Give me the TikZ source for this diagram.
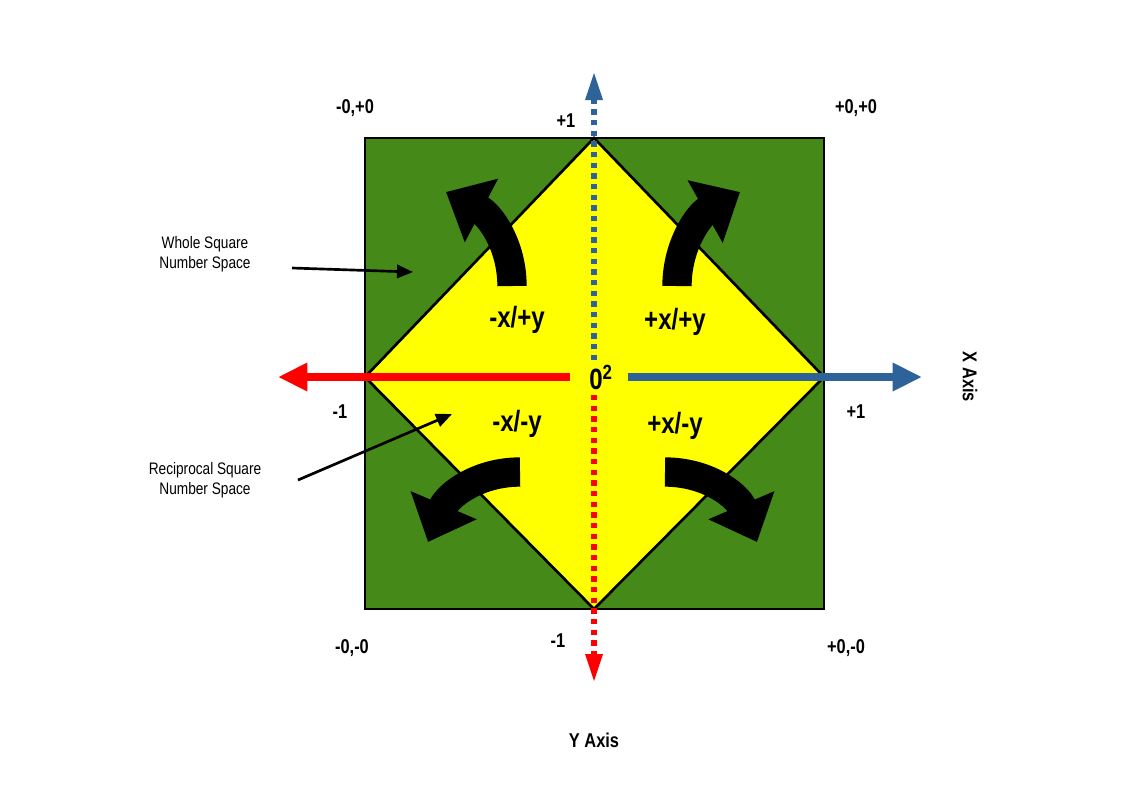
\documentclass[tikz,border=0pt]{standalone}
\usepackage{fontspec}
\setmainfont{Liberation Sans}[FakeStretch=0.82]
\usetikzlibrary{arrows.meta}
\definecolor{grn}{HTML}{458A19}
\definecolor{ylw}{HTML}{FFFF00}
\definecolor{blu}{HTML}{2E6399}
\definecolor{rd}{HTML}{FF0000}
\begin{document}
\begin{tikzpicture}[x=0.75pt,y=-0.75pt,
  lbl/.style={font=\bfseries\fontsize{15}{17}\selectfont},
  big/.style={font=\bfseries\fontsize{22}{24}\selectfont},
  small/.style={font=\fontsize{12.5}{15}\selectfont,align=center},
  curv/.style={line width=22, -{Triangle[length=30,width=52]}},
  axisarrow/.style={line width=6,-{Triangle[length=22,width=20]}},
  dotax/.style={line width=4,dash pattern=on 4 off 4}]
\useasboundingbox (0,0) rectangle (1123,794);
\fill[grn,draw=black,line width=2] (365,138) rectangle (824,609);
\fill[ylw,draw=black,line width=2] (594,138) -- (824,377) -- (594,609) -- (365,377) -- cycle;
\coordinate (c) at (594,377);
% axes
\draw[axisarrow,rd] (570,377) -- (278,377);
\draw[axisarrow,blu] (628,377) -- (922,377);
\draw[dotax,blu] (594,360) -- (594,95);
\fill[blu] (594,73) -- (603,100) -- (585,100) -- cycle;
\draw[dotax,rd] (594,395) -- (594,655);
\fill[rd] (594,681) -- (603,654) -- (585,654) -- cycle;
\node (o) at (601,377) {\bfseries\fontsize{22}{24}\selectfont 0\textsuperscript{2}};
% curved arrows
\draw[curv] (512,286) .. controls (512,245) and (490,215) .. (446,192);
\draw[curv] (677,286) .. controls (677,245) and (699,215) .. (740,192);
\draw[curv] (520,472) .. controls (478,472) and (448,495) .. (428,542);
\draw[curv] (665,472) .. controls (707,472) and (737,495) .. (757,542);
% quadrant labels
\node[big] (q1) at (517,320) {-x/+y};
\node[big] (q2) at (675,322) {+x/+y};
\node[big] (q3) at (517,424) {-x/-y};
\node[big] (q4) at (675,426) {+x/-y};
% corner labels
\node[lbl] (tl) at (355,108) {-0,+0};
\node[lbl] (tr) at (856,108) {+0,+0};
\node[lbl] (bl) at (352,648) {-0,-0};
\node[lbl] (br) at (846,648) {+0,-0};
\node[lbl] (t1) at (566,121) {+1};
\node[lbl] (b1) at (558,641) {-1};
\node[lbl] (l1) at (340,412) {-1};
\node[lbl] (r1) at (856,412) {+1};
\node[lbl] (ya) at (594,740) {Y Axis};
\node[lbl,rotate=-90] (xa) at (970,377) {X Axis};
% annotations
\node[small] (w) at (205,254) {Whole Square\\Number Space};
\node[small] (r) at (205,480) {Reciprocal Square\\Number Space};
\coordinate (wt) at (413,272);
\coordinate (rt) at (452,414);
\draw[line width=2,-{Triangle[length=12,width=10]}] (292,268) -- (wt);
\draw[line width=2,-{Triangle[length=12,width=10]}] (298,480) -- (rt);
\end{tikzpicture}
\end{document}
